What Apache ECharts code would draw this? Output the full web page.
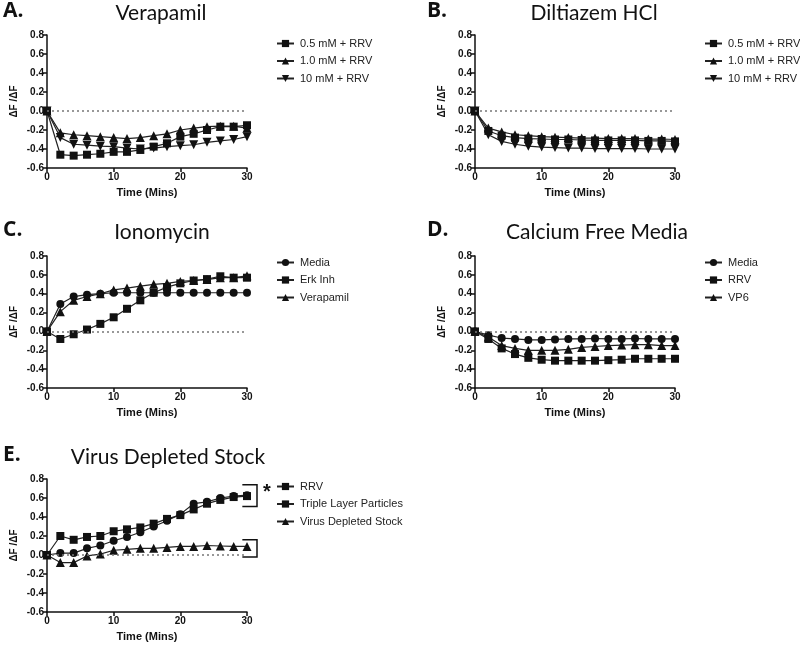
<!DOCTYPE html>
<html>
<head>
<meta charset="utf-8">
<script src="https://cdn.jsdelivr.net/npm/echarts@6/dist/echarts.min.js"></script>
<style>
html,body{margin:0;padding:0;background:#fff;}
#chart{width:800px;height:645px;}
</style>
</head>
<body>
<div id="chart"></div>
<script>
// ---- Data ----
const times = [0,2,4,6,8,10,12,14,16,18,20,22,24,26,28,30];
const yTicks = [-0.6,-0.4,-0.2,0.0,0.2,0.4,0.6,0.8];
const xTicks = [0,10,20,30];

const panelTitles = ['Verapamil','Diltiazem HCl','Ionomycin','Calcium Free Media','Virus Depleted Stock'];
const panelLetters = ['A.','B.','C.','D.','E.'];

// A. Verapamil
const verapamilNames = ['0.5 mM + RRV','1.0 mM + RRV','10 mM + RRV'];
const verapamil05 = [0,-0.46,-0.47,-0.46,-0.45,-0.43,-0.43,-0.41,-0.375,-0.34,-0.27,-0.24,-0.20,-0.165,-0.165,-0.15];
const verapamil10 = [0,-0.23,-0.25,-0.26,-0.27,-0.28,-0.29,-0.28,-0.26,-0.24,-0.20,-0.18,-0.165,-0.16,-0.16,-0.18];
const verapamil100 = [0,-0.28,-0.35,-0.36,-0.37,-0.375,-0.39,-0.40,-0.39,-0.375,-0.365,-0.355,-0.33,-0.315,-0.30,-0.27];

// B. Diltiazem HCl
const diltiazemNames = ['0.5 mM + RRV','1.0 mM + RRV','10 mM + RRV'];
const diltiazem05 = [0,-0.21,-0.26,-0.28,-0.29,-0.295,-0.30,-0.30,-0.305,-0.31,-0.31,-0.31,-0.31,-0.315,-0.315,-0.32];
const diltiazem10 = [0,-0.18,-0.22,-0.25,-0.26,-0.27,-0.275,-0.28,-0.285,-0.285,-0.29,-0.29,-0.29,-0.295,-0.295,-0.30];
const diltiazem100 = [0,-0.25,-0.32,-0.35,-0.37,-0.38,-0.385,-0.39,-0.39,-0.395,-0.395,-0.395,-0.395,-0.40,-0.40,-0.40];

// C. Ionomycin
const ionomycinNames = ['Media','Erk Inh','Verapamil'];
const ionoMedia = [0,0.29,0.37,0.39,0.40,0.41,0.41,0.41,0.41,0.41,0.41,0.41,0.41,0.41,0.41,0.41];
const ionoErk = [0,-0.08,-0.03,0.02,0.08,0.15,0.24,0.33,0.41,0.47,0.51,0.54,0.555,0.585,0.57,0.57];
const ionoVerapamil = [0,0.21,0.33,0.37,0.40,0.44,0.46,0.48,0.50,0.51,0.53,0.54,0.55,0.57,0.57,0.59];

// D. Calcium Free Media
const calciumNames = ['Media','RRV','VP6'];
const caMedia = [0,-0.04,-0.07,-0.08,-0.09,-0.09,-0.085,-0.08,-0.08,-0.075,-0.08,-0.08,-0.075,-0.08,-0.08,-0.08];
const caRRV = [0,-0.08,-0.18,-0.24,-0.28,-0.30,-0.31,-0.31,-0.31,-0.31,-0.305,-0.30,-0.29,-0.29,-0.29,-0.29];
const caVP6 = [0,-0.06,-0.15,-0.18,-0.20,-0.20,-0.20,-0.19,-0.17,-0.16,-0.15,-0.145,-0.14,-0.14,-0.15,-0.15];

// E. Virus Depleted Stock
const virusNames = ['RRV','Triple Layer Particles','Virus Depleted Stock'];
const vRRV = [0,0.02,0.02,0.07,0.10,0.15,0.19,0.24,0.30,0.36,0.43,0.54,0.56,0.60,0.62,0.63];
const vTLP = [0,0.20,0.16,0.19,0.20,0.25,0.27,0.29,0.33,0.38,0.42,0.48,0.54,0.58,0.61,0.62];
const vVDS = [0,-0.08,-0.08,-0.01,0.01,0.05,0.06,0.07,0.07,0.08,0.09,0.09,0.10,0.095,0.09,0.09];

// ---- Build ----
const grids = [
  {left:47, top:35, width:200, height:133},
  {left:475, top:35, width:200, height:133},
  {left:47, top:256, width:200, height:132},
  {left:475, top:256, width:200, height:132},
  {left:47, top:479, width:200, height:133}
];
const legendPos = [
  {left:276, top:38},
  {left:704, top:38},
  {left:276, top:257},
  {left:704, top:257},
  {left:276, top:481}
];
const titlePos = [
  {letterX:3, cx:161, y:13},
  {letterX:427, cx:594, y:13},
  {letterX:3, cx:162, y:232},
  {letterX:427, cx:597, y:232},
  {letterX:3, cx:168, y:457}
];

const panels = [
  {names: verapamilNames, data:[verapamil05, verapamil10, verapamil100], symbols:['rect','triangle','triangle'], rot:[0,0,180]},
  {names: diltiazemNames, data:[diltiazem05, diltiazem10, diltiazem100], symbols:['rect','triangle','triangle'], rot:[0,0,180]},
  {names: ionomycinNames, data:[ionoMedia, ionoErk, ionoVerapamil], symbols:['circle','rect','triangle'], rot:[0,0,0]},
  {names: calciumNames, data:[caMedia, caRRV, caVP6], symbols:['circle','rect','triangle'], rot:[0,0,0]},
  {names: virusNames, data:[vRRV, vTLP, vVDS], symbols:['circle','rect','triangle'], rot:[0,0,0]}
];

const axisFont = {fontFamily:'Liberation Sans', fontWeight:'bold', fontSize:10, color:'#111'};

const xAxes = [], yAxes = [], series = [], legends = [], graphics = [];

panels.forEach((p, i) => {
  xAxes.push({
    type:'value', gridIndex:i, min:xTicks[0], max:xTicks[xTicks.length-1], interval:10,
    name:'Time (Mins)', nameLocation:'middle', nameGap:19,
    nameTextStyle:Object.assign({}, axisFont, {fontSize:11}),
    axisLine:{show:true, onZero:false, lineStyle:{color:'#111', width:1.5}},
    axisTick:{show:true, length:4, lineStyle:{color:'#111', width:1.5}},
    axisLabel:Object.assign({}, axisFont, {fontSize:10, margin:4}),
    splitLine:{show:false}
  });
  yAxes.push({
    type:'value', gridIndex:i, min:yTicks[0], max:yTicks[yTicks.length-1], interval:0.2,
    name:'\u0394F /\u0394F', nameLocation:'middle', nameGap:28, nameRotate:90,
    nameTextStyle:Object.assign({}, axisFont, {fontSize:10}),
    axisLine:{show:true, onZero:false, lineStyle:{color:'#111', width:1.5}},
    axisTick:{show:true, length:4, lineStyle:{color:'#111', width:1.5}},
    axisLabel:Object.assign({}, axisFont, {margin:3, formatter: v => v.toFixed(1)}),
    splitLine:{show:false}
  });
  const names = [];
  p.data.forEach((d, k) => {
    names.push(p.names[k]);
    const s = {
      name:p.names[k], type:'line', xAxisIndex:i, yAxisIndex:i,
      data: times.map((t, j) => [t, d[j]]),
      symbol:p.symbols[k], symbolSize: p.symbols[k]==='triangle' ? 9 : 8,
      symbolRotate:p.rot[k], showAllSymbol:true,
      lineStyle:{color:'#222', width:1.2}, itemStyle:{color:'#111', borderWidth:0},
      emphasis:{disabled:true}, animation:false, z:3
    };
    if (k === 0) {
      s.markLine = {
        silent:true, symbol:'none', animation:false,
        label:{show:false},
        lineStyle:{color:'#777', type:[2,3], width:1.5},
        data:[{yAxis:0}]
      };
    }
    series.push(s);
  });
  legends.push({
    orient:'vertical', left:legendPos[i].left, top:legendPos[i].top,
    data:names, itemWidth:17, itemHeight:9, itemGap:6.5,
    textStyle:{fontFamily:'Liberation Sans', fontSize:11, color:'#222', padding:[0,0,0,1]},
    selectedMode:false, padding:0
  });
  graphics.push({
    type:'text', left:titlePos[i].letterX, top:titlePos[i].y - 12,
    style:{text:panelLetters[i], font:'bold 21px "Open Sans"', fill:'#111'}
  });
  graphics.push({
    type:'text', x:titlePos[i].cx, y:titlePos[i].y,
    style:{text:panelTitles[i], font:'21px Lato', fill:'#111', textAlign:'center', textVerticalAlign:'middle'}
  });
});

const chart = echarts.init(document.getElementById('chart'), null, {renderer:'canvas'});
chart.setOption({
  backgroundColor:'#fff',
  animation:false,
  grid:grids,
  xAxis:xAxes,
  yAxis:yAxes,
  legend:legends,
  series:series,
  graphic:graphics
});

// brackets for panel E (annotation), positioned via the axes
const bracketRanges = [[0.74, 0.51], [0.16, -0.02]];
const extra = [];
bracketRanges.forEach(r => {
  const a = chart.convertToPixel({gridIndex:4}, [29.3, r[0]]);
  const b = chart.convertToPixel({gridIndex:4}, [31.5, r[0]]);
  const c = chart.convertToPixel({gridIndex:4}, [31.5, r[1]]);
  const d = chart.convertToPixel({gridIndex:4}, [29.3, r[1]]);
  extra.push({type:'polyline', shape:{points:[a,b,c,d]}, style:{stroke:'#111', lineWidth:1.5, fill:null}, z:10});
});
const star = chart.convertToPixel({gridIndex:4}, [33.0, 0.66]);
extra.push({type:'text', x:star[0], y:star[1], style:{text:'*', font:'bold 20px "Liberation Sans"', fill:'#111', textAlign:'center', textVerticalAlign:'middle'}, z:10});
chart.setOption({graphic: graphics.concat(extra)});
</script>
</body>
</html>
